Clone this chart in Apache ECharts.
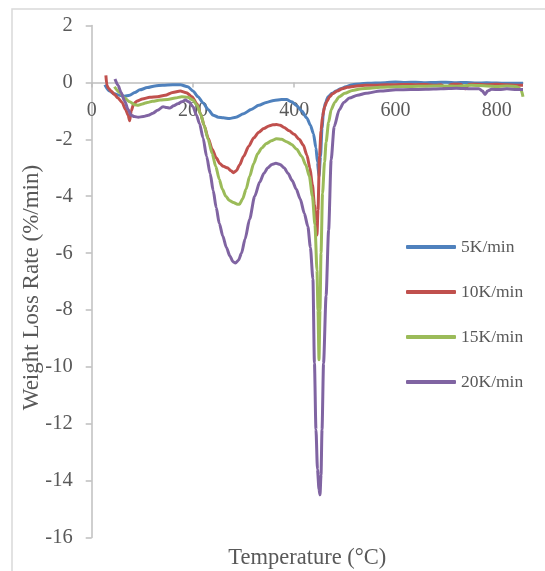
<!DOCTYPE html>
<html>
<head>
<meta charset="utf-8">
<script src="https://cdn.jsdelivr.net/npm/echarts@6/dist/echarts.min.js"></script>
<style>html,body{margin:0;padding:0;background:#fff;}#c{width:545px;height:571px;}</style>
</head>
<body>
<div id="c"></div>
<script>
var seriesNames = ['5K/min', '10K/min', '15K/min', '20K/min'];
var xTicks = [0, 200, 400, 600, 800];
var yTicks = [2, 0, -2, -4, -6, -8, -10, -12, -14, -16];

var temp5 = [26,35,45,55,65,75,85,95,110,125,140,160,175,190,200,210,220,230,240,250,260,272,285,300,315,330,345,360,375,385,395,405,415,425,432,438,443,446,449,452,455,458,462,467,475,483,492,502,515,530,545,560,580,600,620,640,660,680,700,720,740,760,780,800,820,840,852];
var rate5 = [-0.08,-0.3,-0.4,-0.45,-0.48,-0.45,-0.35,-0.26,-0.18,-0.12,-0.1,-0.08,-0.08,-0.15,-0.3,-0.5,-0.72,-0.95,-1.15,-1.22,-1.24,-1.27,-1.22,-1.1,-0.95,-0.8,-0.7,-0.63,-0.6,-0.6,-0.68,-0.82,-1.0,-1.25,-1.5,-1.8,-2.3,-2.8,-3.3,-2.6,-1.6,-1.0,-0.7,-0.5,-0.38,-0.3,-0.22,-0.15,-0.08,-0.05,-0.03,-0.02,-0.01,0.02,0.0,0.01,-0.01,0.0,0.01,-0.01,0.0,-0.02,-0.01,-0.02,-0.03,-0.03,-0.03];

var temp10 = [28,30,33,38,45,52,60,67,72,75,78,83,90,100,115,130,145,160,175,187,198,208,215,222,230,238,246,253,260,268,275,280,286,292,300,310,320,330,340,350,358,365,372,380,390,400,410,418,425,431,436,440,443,445,447,450,453,456,460,465,470,476,485,495,505,520,540,560,580,600,620,640,660,680,690,700,710,720,730,738,745,760,780,800,820,840,852];
var rate10 = [0.25,-0.1,-0.2,-0.3,-0.42,-0.55,-0.7,-0.95,-1.15,-1.35,-1.0,-0.75,-0.65,-0.58,-0.52,-0.5,-0.45,-0.35,-0.3,-0.36,-0.5,-0.75,-1.1,-1.5,-1.95,-2.35,-2.65,-2.85,-2.95,-3.0,-3.1,-3.17,-3.1,-2.9,-2.6,-2.25,-1.95,-1.75,-1.62,-1.53,-1.49,-1.48,-1.5,-1.58,-1.7,-1.82,-2.0,-2.2,-2.55,-3.0,-3.6,-4.3,-4.9,-5.36,-4.5,-2.6,-1.7,-1.2,-0.85,-0.65,-0.5,-0.4,-0.3,-0.22,-0.17,-0.13,-0.1,-0.1,-0.08,-0.08,-0.07,-0.08,-0.07,-0.1,-0.08,-0.2,-0.07,-0.06,-0.07,-0.22,-0.07,-0.06,-0.08,-0.06,-0.08,-0.1,-0.1];

var temp15 = [45,55,65,75,85,92,100,110,120,135,150,165,178,190,200,208,215,222,230,238,245,252,258,265,272,280,288,292,298,305,312,320,328,336,345,355,365,375,385,395,405,415,423,430,436,441,445,447,449,451,453,456,460,463,468,473,480,489,500,515,530,550,570,600,630,660,690,720,750,780,800,820,840,848,852];
var rate15 = [-0.15,-0.35,-0.55,-0.68,-0.78,-0.8,-0.76,-0.7,-0.66,-0.62,-0.6,-0.55,-0.5,-0.52,-0.62,-0.8,-1.1,-1.5,-2.0,-2.5,-2.95,-3.4,-3.75,-4.0,-4.15,-4.22,-4.28,-4.28,-4.1,-3.75,-3.3,-2.85,-2.5,-2.3,-2.15,-2.05,-1.98,-2.0,-2.08,-2.18,-2.35,-2.6,-2.9,-3.3,-4.0,-5.0,-6.6,-8.0,-9.75,-8.0,-6.0,-3.9,-2.8,-2.1,-1.4,-0.96,-0.7,-0.5,-0.38,-0.28,-0.23,-0.2,-0.17,-0.15,-0.14,-0.13,-0.12,-0.13,-0.1,-0.12,-0.14,-0.12,-0.15,-0.25,-0.5];

var temp20 = [46,52,58,65,72,78,84,92,102,112,121,130,141,148,154,162,170,178,185,192,200,207,213,220,227,234,240,246,252,259,266,273,279,284,290,296,303,312,322,332,340,348,356,364,372,380,388,396,404,412,420,427,432,437,440,443,446,449,451,453,455,458,463,468,473,479,489,498,509,525,542,570,601,630,660,690,720,750,765,772,777,782,790,805,820,840,852];
var rate20 = [0.12,-0.1,-0.35,-0.65,-0.95,-1.15,-1.2,-1.22,-1.2,-1.15,-1.08,-0.98,-0.85,-0.88,-0.9,-0.82,-0.75,-0.68,-0.62,-0.68,-0.85,-1.15,-1.45,-1.95,-2.6,-3.2,-3.8,-4.4,-4.95,-5.4,-5.8,-6.1,-6.3,-6.35,-6.25,-6.0,-5.5,-4.8,-4.0,-3.5,-3.2,-3.0,-2.88,-2.84,-2.88,-3.0,-3.2,-3.45,-3.75,-4.1,-4.6,-5.06,-5.8,-6.9,-9.86,-12.2,-13.6,-14.3,-14.5,-13.8,-12.2,-9.87,-7.5,-5.2,-2.72,-1.55,-0.96,-0.7,-0.55,-0.45,-0.38,-0.3,-0.26,-0.25,-0.24,-0.22,-0.2,-0.22,-0.22,-0.3,-0.42,-0.3,-0.24,-0.25,-0.22,-0.25,-0.25];

var colors = ['#4F81BD', '#C0504D', '#9BBB59', '#8064A2'];
var temps = [temp5, temp10, temp15, temp20];
var rates = [rate5, rate10, rate15, rate20];

function pairs(t, r) {
  var out = [];
  for (var i = 0; i < t.length; i++) out.push([t[i], r[i]]);
  return out;
}

var FONT = '"Liberation Serif", "Times New Roman", serif';
var TXT = '#595959';
var AX = '#BFBFBF';

var GRID_TOP = 25.6, GRID_BOTTOM = 33.5, H = 571;
var Y_MIN = -16, Y_MAX = 2;
// distance of the y=0 line above the bottom edge of the plot
var zeroFromBottom = (H - GRID_TOP - GRID_BOTTOM) * (0 - Y_MIN) / (Y_MAX - Y_MIN);

var chart = echarts.init(document.getElementById('c'), null, {renderer: 'canvas'});
var series = seriesNames.map(function (n, i) {
  return {
    name: n,
    type: 'line',
    data: pairs(temps[i], rates[i]),
    showSymbol: false,
    symbol: 'none',
    smooth: 0.25,
    smoothMonotone: 'x',
    lineStyle: {width: 3, color: colors[i]},
    itemStyle: {color: colors[i]},
    z: 2 + i
  };
});

chart.setOption({
  animation: false,
  backgroundColor: '#ffffff',
  color: colors,
  graphic: [{
    type: 'rect',
    shape: {x: 12, y: 9, width: 600, height: 600},
    style: {fill: 'none', stroke: '#D9D9D9', lineWidth: 1.5},
    silent: true, z: -1
  }],
  grid: {left: 91.7, right: 22, top: GRID_TOP, bottom: GRID_BOTTOM, containLabel: false, outerBoundsMode: 'none'},
  legend: {
    orient: 'vertical',
    left: 406,
    top: 238,
    padding: 0,
    itemWidth: 50,
    itemHeight: 4,
    itemGap: 27,
    icon: 'roundRect',
    data: seriesNames,
    textStyle: {fontFamily: FONT, fontSize: 17.5, color: TXT}
  },
  xAxis: {
    type: 'value',
    position: 'bottom',
    offset: -zeroFromBottom,
    min: 0,
    max: 852,
    interval: 200,
    name: 'Temperature (°C)',
    nameLocation: 'middle',
    nameGap: 464,
    nameMoveOverlap: false,
    nameTextStyle: {fontFamily: FONT, fontSize: 22.5, color: TXT},
    axisLine: {onZero: false, lineStyle: {color: AX, width: 1.5}},
    axisTick: {show: true, inside: false, length: 5, lineStyle: {color: AX, width: 1.5}},
    axisLabel: {
      fontFamily: FONT, fontSize: 20, color: TXT, margin: 18,
      showMaxLabel: false,
      formatter: function (v) { return xTicks.indexOf(v) >= 0 ? String(v) : ''; }
    },
    splitLine: {show: false}
  },
  yAxis: {
    type: 'value',
    min: Y_MIN,
    max: Y_MAX,
    interval: 2,
    name: 'Weight Loss Rate (%/min)',
    nameLocation: 'middle',
    nameGap: 48,
    nameMoveOverlap: false,
    nameTextStyle: {fontFamily: FONT, fontSize: 23, color: TXT, padding: [0, 12, 0, 0]},
    axisLine: {show: true, onZero: false, lineStyle: {color: AX, width: 1.5}},
    axisTick: {show: true, inside: false, length: 6, lineStyle: {color: AX, width: 1.5}},
    axisLabel: {
      fontFamily: FONT, fontSize: 20.5, color: TXT, margin: 19,
      formatter: function (v) { return yTicks.indexOf(v) >= 0 ? String(v) : ''; }
    },
    splitLine: {show: false}
  },
  series: series
});
</script>
</body>
</html>
